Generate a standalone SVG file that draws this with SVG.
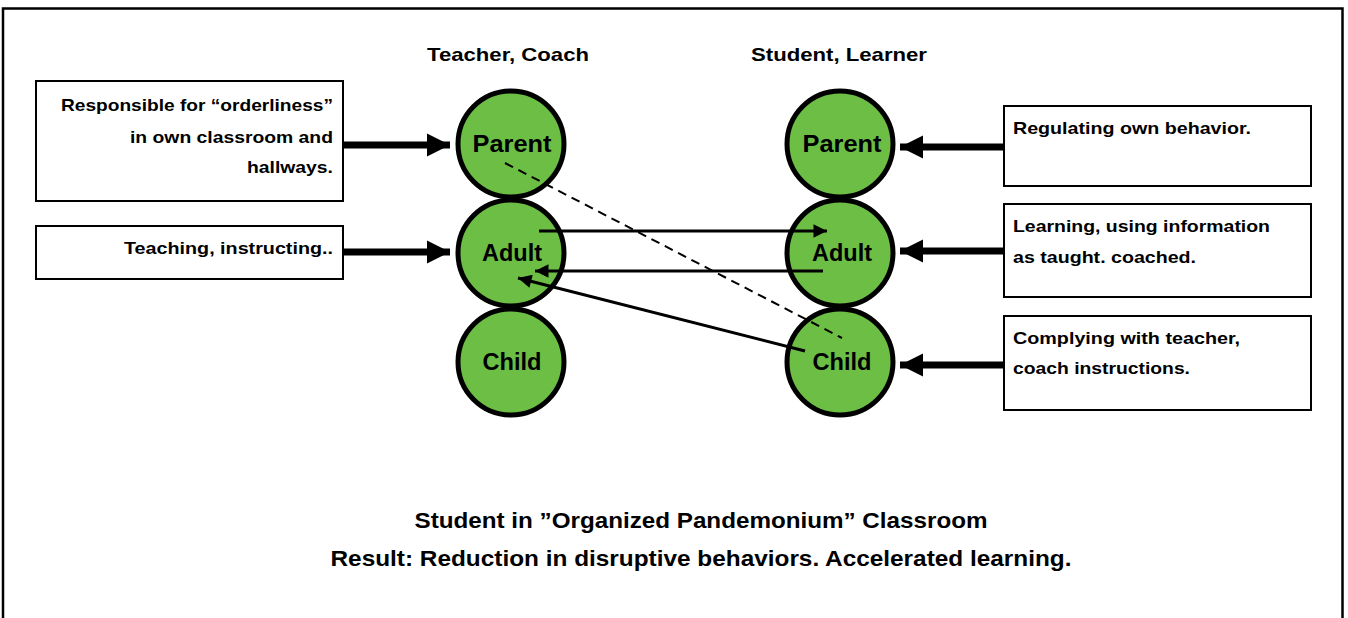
<svg xmlns="http://www.w3.org/2000/svg" width="1348" height="618" viewBox="0 0 1348 618">
<style>
.box{fill:#fff;stroke:#000;stroke-width:2}
.node{fill:#6cbe45;stroke:#000;stroke-width:5}
.t{font-family:"Liberation Sans",Arial,sans-serif;font-weight:bold;fill:#000}
.lbl{font-size:17px}
.nt{font-size:23px;text-anchor:middle;dominant-baseline:central}
.hd{font-size:19px;text-anchor:middle}
.ft{font-size:22px;text-anchor:middle}
.thick{stroke:#000;stroke-width:7;fill:none}
.thin{stroke:#000;stroke-width:3;fill:none}
.dash{stroke:#000;stroke-width:2;fill:none;stroke-dasharray:9 6}
</style>
<defs>
<marker id="big" viewBox="0 0 10 10" refX="10" refY="5" markerWidth="3.3" markerHeight="3.6" markerUnits="strokeWidth" orient="auto">
<path d="M0,0 L10,5 L0,10 Z" fill="#000"/>
</marker>
<marker id="small" viewBox="0 0 10 10" refX="10" refY="5" markerWidth="5.5" markerHeight="4.5" markerUnits="strokeWidth" orient="auto">
<path d="M0,0 L10,5 L0,10 Z" fill="#000"/>
</marker>
</defs>
<rect width="1348" height="618" fill="#fff"/>
<path d="M3,620 V8.5 H1342.5 V620" fill="none" stroke="#000" stroke-width="2.5"/>

<text class="t hd" x="508" y="61" textLength="162" lengthAdjust="spacingAndGlyphs">Teacher, Coach</text>
<text class="t hd" x="839" y="61" textLength="176" lengthAdjust="spacingAndGlyphs">Student, Learner</text>

<g id="box-responsible">
<rect class="box" x="36" y="81" width="307" height="120"/>
<text class="t lbl" x="333" y="111" text-anchor="end" textLength="272" lengthAdjust="spacingAndGlyphs">Responsible for “orderliness”</text>
<text class="t lbl" x="333" y="143" text-anchor="end" textLength="203" lengthAdjust="spacingAndGlyphs">in own classroom and</text>
<text class="t lbl" x="333" y="173" text-anchor="end" textLength="86" lengthAdjust="spacingAndGlyphs">hallways.</text>
</g>
<g id="box-teaching">
<rect class="box" x="36" y="226" width="307" height="53"/>
<text class="t lbl" x="333" y="254" text-anchor="end" textLength="209" lengthAdjust="spacingAndGlyphs">Teaching, instructing..</text>
</g>

<g id="box-regulating">
<rect class="box" x="1004" y="106" width="307" height="80"/>
<text class="t lbl" x="1013" y="134" textLength="238" lengthAdjust="spacingAndGlyphs">Regulating own behavior.</text>
</g>
<g id="box-learning">
<rect class="box" x="1004" y="204" width="307" height="93"/>
<text class="t lbl" x="1013" y="232" textLength="257" lengthAdjust="spacingAndGlyphs">Learning, using information</text>
<text class="t lbl" x="1013" y="263" textLength="183" lengthAdjust="spacingAndGlyphs">as taught. coached.</text>
</g>
<g id="box-complying">
<rect class="box" x="1004" y="316" width="307" height="94"/>
<text class="t lbl" x="1013" y="344" textLength="227" lengthAdjust="spacingAndGlyphs">Complying with teacher,</text>
<text class="t lbl" x="1013" y="374" textLength="177" lengthAdjust="spacingAndGlyphs">coach instructions.</text>
</g>

<g id="teacher-parent"><circle class="node" cx="511" cy="144" r="53"/><text class="t nt" x="512" y="144" textLength="79" lengthAdjust="spacingAndGlyphs">Parent</text></g>
<g id="teacher-adult"><circle class="node" cx="511" cy="253" r="53"/><text class="t nt" x="512" y="253" textLength="60" lengthAdjust="spacingAndGlyphs">Adult</text></g>
<g id="teacher-child"><circle class="node" cx="511" cy="362" r="53"/><text class="t nt" x="512" y="362" textLength="59" lengthAdjust="spacingAndGlyphs">Child</text></g>
<g id="student-parent"><circle class="node" cx="840" cy="144" r="53"/><text class="t nt" x="842" y="144" textLength="79" lengthAdjust="spacingAndGlyphs">Parent</text></g>
<g id="student-adult"><circle class="node" cx="840" cy="253" r="53"/><text class="t nt" x="842" y="253" textLength="60" lengthAdjust="spacingAndGlyphs">Adult</text></g>
<g id="student-child"><circle class="node" cx="840" cy="362" r="53"/><text class="t nt" x="842" y="362" textLength="59" lengthAdjust="spacingAndGlyphs">Child</text></g>

<g id="connectors">
<line class="thick" x1="343" y1="145" x2="450" y2="145" marker-end="url(#big)"/>
<line class="thick" x1="343" y1="252" x2="450" y2="252" marker-end="url(#big)"/>
<line class="thick" x1="1004" y1="147" x2="900" y2="147" marker-end="url(#big)"/>
<line class="thick" x1="1004" y1="251" x2="900" y2="251" marker-end="url(#big)"/>
<line class="thick" x1="1004" y1="365" x2="900" y2="365" marker-end="url(#big)"/>
<line class="dash" x1="505" y1="163" x2="842" y2="338"/>
<line class="thin" x1="539" y1="231" x2="827" y2="231" marker-end="url(#small)"/>
<line class="thin" x1="823" y1="271" x2="535" y2="271" marker-end="url(#small)"/>
<line class="thin" x1="805" y1="351" x2="518" y2="278" marker-end="url(#small)"/>
</g>

<text class="t ft" x="701" y="528" textLength="573" lengthAdjust="spacingAndGlyphs">Student in ”Organized Pandemonium” Classroom</text>
<text class="t ft" x="701" y="566" textLength="741" lengthAdjust="spacingAndGlyphs">Result: Reduction in disruptive behaviors. Accelerated learning.</text>
</svg>
